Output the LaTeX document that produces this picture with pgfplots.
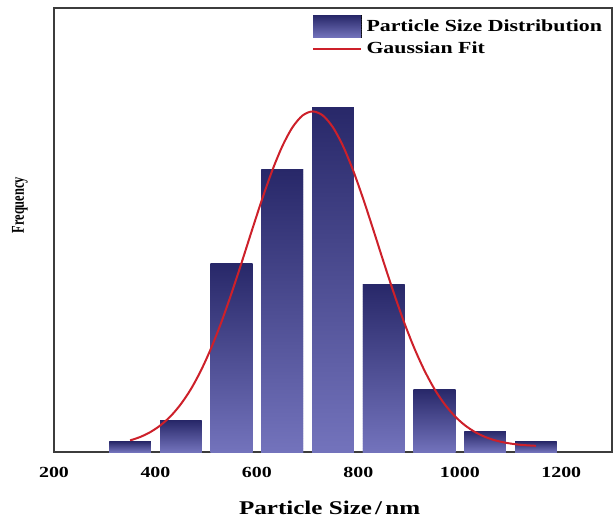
\documentclass[border=0pt]{standalone}
\usepackage{fontspec}
\setmainfont{Liberation Serif}[FakeStretch=1.29]
\newfontfamily\plainserif{Liberation Serif}
\usepackage{pgfplots}
\pgfplotsset{compat=1.18}
\usetikzlibrary{patterns}
\pgfdeclarepatternformonly{finehatch}{\pgfqpoint{-1pt}{-1pt}}{\pgfqpoint{3.5pt}{3.5pt}}{\pgfqpoint{2.5pt}{2.5pt}}{%
  \pgfsetlinewidth{0.6pt}%
  \pgfpathmoveto{\pgfqpoint{-0.1pt}{-0.1pt}}%
  \pgfpathlineto{\pgfqpoint{2.6pt}{2.6pt}}%
  \pgfusepath{stroke}}
\definecolor{navytop}{RGB}{40,40,105}
\definecolor{lavbot}{RGB}{115,115,188}
\definecolor{hatchc}{RGB}{160,160,218}
\definecolor{fitred}{RGB}{205,32,42}
\definecolor{framec}{RGB}{60,60,60}
\pgfplotsset{
  barlegend/.style={legend image code/.code={\draw[##1,/tikz/.cd] (0bp,-11bp) rectangle (48bp,11bp);}},
  linelegend/.style={legend image code/.code={\draw[##1,/tikz/.cd] (0bp,0bp) -- (48bp,0bp);}},
  barstyle/.style={ybar, bar width=82, draw=none, top color=navytop, bottom color=lavbot,
    postaction={pattern=finehatch, pattern color=hatchc}},
}
\begin{document}
\begin{tikzpicture}
\path[use as bounding box] (-54bp,-73bp) rectangle (561bp,452bp);
\begin{axis}[
  at={(0,0)}, anchor=south west,
  scale only axis,
  width=558bp, height=444bp,
  xmin=200, xmax=1300,
  ymin=0, ymax=42.5,
  xtick={200,400,600,800,1000,1200},
  ytick=\empty,
  major tick length=0pt,
  axis line style={draw=framec, line width=1.5bp},
  /pgf/number format/assume math mode=true,
  /pgf/number format/1000 sep={},
  xticklabel style={font=\fontsize{15.5}{16}\selectfont\bfseries, anchor=center, yshift=-20bp},
  xlabel={Particle Size\,/\,nm},
  xlabel style={font=\fontsize{19.5}{20}\selectfont\bfseries, at={(axis description cs:0.494,0)}, anchor=center, yshift=-56bp},
  ylabel={\scalebox{1}[1.45]{Frequency}},
  ylabel style={font=\fontsize{12.5}{13}\plainserif\bfseries, at={(axis description cs:-0.061,0.556)}, anchor=center, rotate=0},
  legend cell align=left,
  legend style={draw=none, fill=none, inner sep=0pt,
    at={(axis description cs:0.462,0.984)}, anchor=north west,
    font=\fontsize{17}{18}\selectfont\bfseries,
    row sep=3bp,
    nodes={inner sep=1.5bp},
    /tikz/every odd column/.append style={column sep=3bp}},
]
\addplot[barstyle, barlegend] coordinates {(350,1)};
\addlegendentry{Particle Size Distribution}
\addplot[barstyle, forget plot] coordinates {(450,3)};
\addplot[barstyle, forget plot] coordinates {(550,18)};
\addplot[barstyle, forget plot] coordinates {(650,27)};
\addplot[barstyle, forget plot] coordinates {(750,33)};
\addplot[barstyle, forget plot] coordinates {(850,16)};
\addplot[barstyle, forget plot] coordinates {(950,6)};
\addplot[barstyle, forget plot] coordinates {(1050,2)};
\addplot[barstyle, forget plot] coordinates {(1150,1)};
\addplot[smooth, color=fitred, line width=2bp, linelegend]
  coordinates {
  (350,1.11) (370,1.44) (390,1.91) (410,2.56) (430,3.43) (450,4.58) (470,6.03)
  (490,7.83) (510,9.97) (530,12.44) (550,15.20) (570,18.15) (590,21.19)
  (610,24.16) (630,26.91) (650,29.26) (670,31.07) (690,32.21) (710,32.60)
  (730,32.21) (750,31.07) (770,29.26) (790,26.91) (810,24.16) (830,21.19)
  (850,18.15) (870,15.20) (890,12.44) (910,9.97) (930,7.83) (950,6.03)
  (970,4.58) (990,3.43) (1010,2.56) (1030,1.91) (1050,1.44) (1070,1.11)
  (1090,0.89) (1110,0.74) (1130,0.65) (1150,0.59)
  };
\addlegendentry{Gaussian Fit}
\end{axis}
\end{tikzpicture}
\end{document}
